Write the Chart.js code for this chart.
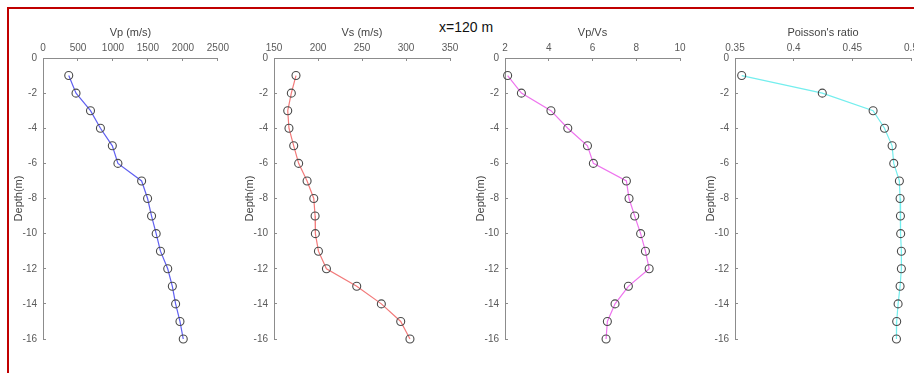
<!DOCTYPE html>
<html>
<head>
<meta charset="utf-8">
<script src="https://cdn.jsdelivr.net/npm/chart.js@4.4.1/dist/chart.umd.min.js"></script>
<style>
  html, body { margin: 0; padding: 0; background: #fff; overflow: hidden; }
  #page { position: relative; width: 914px; height: 373px; overflow: hidden; font-family: "Liberation Sans", Arial, sans-serif; }
  #frame { position: absolute; left: 7px; top: 7px; width: 920px; height: 380px; border-top: 2px solid #c00000; border-left: 2px solid #c00000; }
  #title { position: absolute; left: 0; width: 932px; top: 19px; text-align: center; font-size: 14px; color: #111; }
  .panel { position: absolute; top: 10px; height: 344px; }
</style>
</head>
<body>
<div id="page">
  <div id="frame"></div>
  <div id="title">x=120 m</div>
  <div class="panel" id="p0"><canvas id="c0"></canvas></div>
  <div class="panel" id="p1"><canvas id="c1"></canvas></div>
  <div class="panel" id="p2"><canvas id="c2"></canvas></div>
  <div class="panel" id="p3"><canvas id="c3"></canvas></div>
</div>
<script>
// depth of each layer (m)
var depth = [-1, -2, -3, -4, -5, -6, -7, -8, -9, -10, -11, -12, -13, -14, -15, -16];

// values
var vp = [368, 472, 679, 821, 991, 1071, 1410, 1495, 1552, 1618, 1679, 1783, 1849, 1896, 1958, 2005];
var vs = [175, 169.7, 165.6, 167, 172.4, 178, 187.6, 195.2, 196.7, 197, 200.5, 209.6, 244, 272, 294, 304.5];
var vpvs = [2.12, 2.75, 4.10, 4.87, 5.77, 6.04, 7.55, 7.67, 7.93, 8.20, 8.42, 8.59, 7.64, 7.03, 6.68, 6.62];
var poisson = [0.3557, 0.4244, 0.4677, 0.4774, 0.4839, 0.4853, 0.4901, 0.4907, 0.4910, 0.4912, 0.4918, 0.4918, 0.4907, 0.4890, 0.4878, 0.4876];

var xTitles = ['Vp (m/s)', 'Vs (m/s)', 'Vp/Vs', "Poisson's ratio"];
var xMin = [0, 150, 2, 0.35];
var xMax = [2500, 350, 10, 0.5];
var xStep = [500, 50, 2, 0.05];
var lineColors = ['#6060f0', '#f27a7a', '#ee74ee', '#74eeee'];

var plotLeft = [43, 274, 505, 735];
var plotRight = [220, 450, 680, 911];
var yAxisWidth = 33;
var xAxisHeight = 48;

var axisGray = '#8c8c8c';
var tickGray = '#5a5a5a';

function makePoints(values){
    var pts = [];
    for(var i=0; i<depth.length; i++){
        pts.push({x: values[i], y: depth[i]});
    }
    return pts;
}

function showPanel(n, values){

    var wrap = document.getElementById('p' + n);
    wrap.style.left = (plotLeft[n] - yAxisWidth) + 'px';
    wrap.style.width = (plotRight[n] - plotLeft[n] + yAxisWidth + 16) + 'px';

    var ctx = document.getElementById('c' + n).getContext('2d');
    var chart = new Chart(ctx, {
        type: 'scatter',
        data: {
            datasets: [{
                data: makePoints(values),
                showLine: true,
                clip: false,
                borderColor: lineColors[n],
                borderWidth: 1.2,
                pointStyle: 'circle',
                pointRadius: 4,
                pointBorderWidth: 1.1,
                pointBorderColor: '#4a4a4a',
                pointBackgroundColor: 'rgba(0,0,0,0)',
                pointHoverRadius: 4
            }]
        },
        options: {
            responsive: true,
            maintainAspectRatio: false,
            animation: false,
            layout: { padding: { right: 16, bottom: 12 } },
            plugins: { legend: { display: false }, tooltip: { enabled: false } },
            scales: {
                x: {
                    type: 'linear',
                    position: 'top',
                    min: xMin[n],
                    max: xMax[n],
                    afterFit: function(scale){ scale.height = xAxisHeight; },
                    title: {
                        display: true,
                        text: xTitles[n],
                        color: '#444',
                        font: { size: 11, family: '"Liberation Sans", Arial, sans-serif' },
                        padding: { top: 16, bottom: 0 }
                    },
                    ticks: {
                        stepSize: xStep[n],
                        color: tickGray,
                        padding: 7,
                        maxRotation: 0,
                        autoSkip: false,
                        font: { size: 10, family: '"Liberation Sans", Arial, sans-serif' },
                        callback: function(v){ return String(+Number(v).toFixed(2)); }
                    },
                    grid: { drawOnChartArea: false, drawTicks: true, tickLength: -3, color: axisGray },
                    border: { display: true, color: axisGray, width: 1 }
                },
                y: {
                    type: 'linear',
                    position: 'left',
                    min: -16,
                    max: 0,
                    afterFit: function(scale){ scale.width = yAxisWidth; },
                    title: {
                        display: true,
                        text: 'Depth(m)',
                        color: '#444',
                        font: { size: 11, family: '"Liberation Sans", Arial, sans-serif' },
                        padding: { top: 2, bottom: 0 }
                    },
                    ticks: {
                        stepSize: 2,
                        color: tickGray,
                        padding: 9,
                        autoSkip: false,
                        font: { size: 10, family: '"Liberation Sans", Arial, sans-serif' }
                    },
                    grid: { drawOnChartArea: false, drawTicks: true, tickLength: -3, color: axisGray },
                    border: { display: true, color: axisGray, width: 1 }
                }
            }
        }
    });
    return chart;
}

showPanel(0, vp);
showPanel(1, vs);
showPanel(2, vpvs);
showPanel(3, poisson);
</script>
</body>
</html>
